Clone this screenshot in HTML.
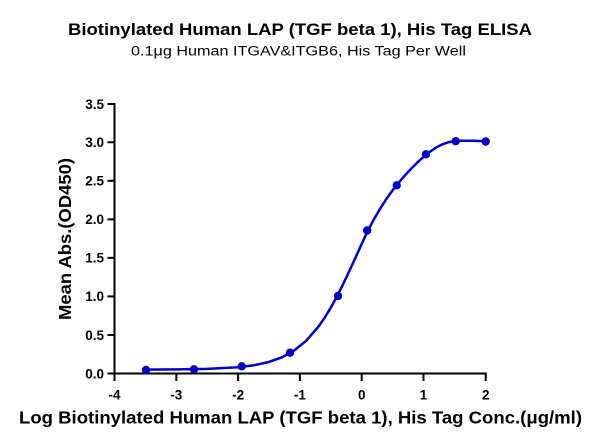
<!DOCTYPE html>
<html>
<head>
<meta charset="utf-8">
<style>
  html,body{margin:0;padding:0;background:#fff;}
  svg{display:block;}
  text{font-family:"Liberation Sans", Arial, sans-serif; fill:#000;}
</style>
</head>
<body>
<svg width="600" height="447" viewBox="0 0 600 447" xmlns="http://www.w3.org/2000/svg">
  <rect width="600" height="447" fill="#fff"/>
  <!-- Titles -->
  <text x="300" y="35" text-anchor="middle" font-size="17" font-weight="bold" textLength="464" lengthAdjust="spacingAndGlyphs">Biotinylated Human LAP (TGF beta 1), His Tag ELISA</text>
  <text x="298.5" y="55.7" text-anchor="middle" font-size="13.5" textLength="335" lengthAdjust="spacingAndGlyphs">0.1μg Human ITGAV&amp;ITGB6, His Tag Per Well</text>

  <!-- Axes -->
  <g stroke="#000" stroke-width="2" fill="none">
    <line x1="114.5" y1="103" x2="114.5" y2="374.5"/>
    <line x1="113.5" y1="373.5" x2="486.7" y2="373.5"/>
    <!-- y ticks -->
    <line x1="107.5" y1="373.5" x2="114.5" y2="373.5"/>
    <line x1="107.5" y1="334.96" x2="114.5" y2="334.96"/>
    <line x1="107.5" y1="296.42" x2="114.5" y2="296.42"/>
    <line x1="107.5" y1="257.88" x2="114.5" y2="257.88"/>
    <line x1="107.5" y1="219.34" x2="114.5" y2="219.34"/>
    <line x1="107.5" y1="180.8" x2="114.5" y2="180.8"/>
    <line x1="107.5" y1="142.26" x2="114.5" y2="142.26"/>
    <line x1="107.5" y1="104" x2="114.5" y2="104"/>
    <!-- x ticks -->
    <line x1="114.5" y1="373.5" x2="114.5" y2="381"/>
    <line x1="176.3" y1="373.5" x2="176.3" y2="381"/>
    <line x1="238.1" y1="373.5" x2="238.1" y2="381"/>
    <line x1="299.9" y1="373.5" x2="299.9" y2="381"/>
    <line x1="361.7" y1="373.5" x2="361.7" y2="381"/>
    <line x1="423.5" y1="373.5" x2="423.5" y2="381"/>
    <line x1="485.7" y1="373.5" x2="485.7" y2="381"/>
  </g>

  <!-- y tick labels -->
  <g font-size="13.5" font-weight="bold" text-anchor="end">
    <text x="104" y="378.3">0.0</text>
    <text x="104" y="339.8">0.5</text>
    <text x="104" y="301.2">1.0</text>
    <text x="104" y="262.7">1.5</text>
    <text x="104" y="224.1">2.0</text>
    <text x="104" y="185.6">2.5</text>
    <text x="104" y="147.1">3.0</text>
    <text x="104" y="108.8">3.5</text>
  </g>

  <!-- x tick labels -->
  <g font-size="13.5" font-weight="bold" text-anchor="middle">
    <text x="114.5" y="399.5">-4</text>
    <text x="176.3" y="399.5">-3</text>
    <text x="238.1" y="399.5">-2</text>
    <text x="299.9" y="399.5">-1</text>
    <text x="361.7" y="399.5">0</text>
    <text x="423.5" y="399.5">1</text>
    <text x="485.7" y="399.5">2</text>
  </g>

  <!-- axis titles -->
  <text x="19" y="423.3" font-size="17.5" font-weight="bold" textLength="563" lengthAdjust="spacingAndGlyphs">Log Biotinylated Human LAP (TGF beta 1), His Tag Conc.(μg/ml)</text>
  <text transform="translate(71,239) rotate(-90)" text-anchor="middle" font-size="17.5" font-weight="bold" textLength="162" lengthAdjust="spacingAndGlyphs">Mean Abs.(OD450)</text>

  <!-- curve -->
  <path fill="none" stroke="#0000c8" stroke-width="2.5" stroke-linecap="round" stroke-linejoin="round"
    d="M145.2,369.58 L176.15,369.42 L207.1,368.91 L238.0,367.26 L253.46,365.35 L268.92,361.99 L281.3,357.59 L293.67,350.87 L306.04,340.91 L318.4,326.72 L324.59,317.83 L330.78,307.71 L336.96,296.41 L343.15,284.12 L349.33,271.03 L355.52,257.55 L361.7,243.95 L367.89,230.67 L374.07,219.07 L380.26,208.47 L386.44,198.87 L392.63,190.27 L398.81,182.57 L405.0,175.37 L411.18,168.67 L417.37,162.47 L423.55,156.87 L429.74,151.87 L435.92,147.67 L442.1,144.47 L448.3,142.27 L454.5,141.07 L460.7,140.7 L473.0,140.8 L485.4,141.2"/>

  <!-- points -->
  <g fill="#0000c8">
    <circle cx="146" cy="370" r="4.2"/>
    <circle cx="194" cy="369.3" r="4.2"/>
    <circle cx="241.7" cy="366.3" r="4.2"/>
    <circle cx="290" cy="352.7" r="4.2"/>
    <circle cx="338" cy="296" r="4.2"/>
    <circle cx="367.2" cy="230.5" r="4.2"/>
    <circle cx="396.7" cy="185.3" r="4.2"/>
    <circle cx="426" cy="154.3" r="4.2"/>
    <circle cx="455.7" cy="141.2" r="4.2"/>
    <circle cx="485.7" cy="141.5" r="4.2"/>
  </g>
</svg>
</body>
</html>
